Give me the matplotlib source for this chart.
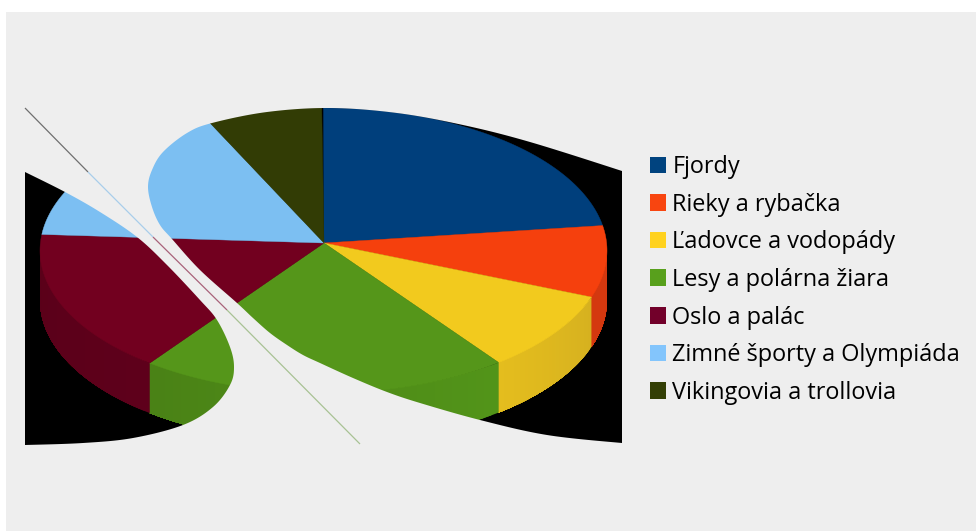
import numpy as np
import matplotlib
matplotlib.use("Agg")
import matplotlib.pyplot as plt
from matplotlib.patches import Polygon, Rectangle, Patch, PathPatch
from matplotlib.path import Path

categories = ["Fjordy", "Rieky a rybačka", "Ľadovce a vodopády", "Lesy a polárna žiara",
              "Oslo a palác", "Zimné športy a Olympiáda", "Vikingovia a trollovia"]
values = [22.2, 8.1, 9.1, 21.1, 16.3, 16.5, 6.6]

legend_colors = ["#00437f", "#f84510", "#ffd21f", "#58a01c", "#72002a", "#83c5fc", "#333f05"]
top_colors = ["#003f7c", "#f5400d", "#f2ca1e", "#55961a", "#72001f", "#7cbff2", "#323c05"]
# wall shade at each end of a slice
wall_from = ["#00305e", "#d4380f", "#d6b11f", "#529419", "#5e001b", "#6aa5d2", "#2a3304"]
wall_to = ["#00305e", "#d4380f", "#e4bd1e", "#4a8216", "#5a0019", "#6aa5d2", "#2a3304"]

panel = "#eeeeee"

# pie geometry in pixels
cx, cy, rx, ry = 323.5, 250.5, 283.5, 142.5
apex = (324, 243)
depth = 50


def rim(a):
    # a in degrees clockwise from the top
    t = np.radians(a)
    return cx + rx * np.sin(t), cy - ry * np.cos(t)


def smooth(pts, n=16):
    # catmull-rom through the outline points
    p = np.array(pts, dtype=float)
    p = np.vstack([p[0], p, p[-1]])
    out = []
    for i in range(1, len(p) - 2):
        for u in np.linspace(0, 1, n, endpoint=False):
            out.append(0.5 * (2 * p[i] + (p[i + 1] - p[i - 1]) * u
                              + (2 * p[i - 1] - 5 * p[i] + 4 * p[i + 1] - p[i + 2]) * u ** 2
                              + (3 * p[i] - p[i - 1] - 3 * p[i + 1] + p[i + 2]) * u ** 3))
    out.append(p[-2])
    return np.array(out)


fig = plt.figure(figsize=(9.76, 5.31), dpi=100, facecolor="white")
ax = fig.add_axes([0, 0, 1, 1])
ax.set_xlim(0, 976)
ax.set_ylim(531, 0)
ax.axis("off")

ax.add_patch(Rectangle((6, 12), 970, 519, fc=panel, ec="none", zorder=0))
ax.add_patch(Rectangle((25, 108), 597, 337, fc="black", ec="none", zorder=1))

# side wall, only the front half shows
edges = np.cumsum([0] + values) * 3.6
for i in range(len(values)):
    a0, a1 = max(edges[i], 90), min(edges[i + 1], 270)
    if a1 <= a0:
        continue
    ang = np.linspace(a0, a1, 41)
    c0 = np.array(matplotlib.colors.to_rgb(wall_from[i]))
    c1 = np.array(matplotlib.colors.to_rgb(wall_to[i]))
    # painted over each other so no black seams show between the strips
    for j in range(40):
        xs, ys = rim(ang[j:])
        pts = np.column_stack([np.r_[xs, xs[::-1]], np.r_[ys, ys[::-1] + depth]])
        ax.add_patch(Polygon(pts, fc=c0 + (c1 - c0) * j / 39, ec="none", zorder=2))

# top surface
for i in range(len(values)):
    ang = np.linspace(edges[i], edges[i + 1], 80)
    xs, ys = rim(ang)
    pts = np.vstack([apex, np.column_stack([xs, ys])])
    ax.add_patch(Polygon(pts, fc=top_colors[i], ec=top_colors[i], lw=0.3, zorder=3))

# the chart is cut into two lobes, everything else is panel colour
right_lobe = smooth([(632, 175), (622, 171), (530, 142), (463, 125), (397, 113), (330, 108), (267, 112),
                     (212, 123), (187, 133), (163, 152), (152, 170), (148, 187), (152, 207), (160, 225),
                     (172, 239), (200, 270), (237, 303), (253, 318), (270, 333), (287, 345), (303, 355),
                     (320, 363), (353, 378), (387, 392), (420, 403), (480, 420), (547, 435),
                     (622, 443), (632, 443)])
left_lobe = smooth([(15, 167), (25, 172), (65, 192), (100, 212), (137, 237), (167, 265), (200, 300),
                    (217, 320), (230, 347), (234, 367), (230, 385), (213, 407), (183, 425), (133, 438),
                    (83, 443), (25, 445), (15, 445)])


def area(p):
    return 0.5 * np.sum(p[:, 0] * np.roll(p[:, 1], -1) - np.roll(p[:, 0], -1) * p[:, 1])


outer = np.array([(15, 98), (640, 98), (640, 455), (15, 455)], dtype=float)
verts, codes = [], []
for k, pts in enumerate([outer, right_lobe, left_lobe]):
    # holes wind the other way round to the outer box
    if k > 0 and np.sign(area(pts)) == np.sign(area(outer)):
        pts = pts[::-1]
    verts.append(np.vstack([pts, pts[:1]]))
    codes += [Path.MOVETO] + [Path.LINETO] * (len(pts) - 1) + [Path.CLOSEPOLY]
ax.add_patch(PathPatch(Path(np.vstack(verts), codes), fc=panel, ec="none", zorder=4))

# hairline slit where the chart shows through
slit = [((25, 108), (88, 172), "#6f6f6f"), ((88, 172), (153, 237), "#a9cdea"),
        ((153, 237), (227, 310), "#a8627a"), ((227, 310), (360, 444), "#a8c294")]
for p0, p1, col in slit:
    ax.plot([p0[0], p1[0]], [p0[1], p1[1]], color=col, lw=0.9, zorder=5, solid_capstyle="butt")

handles = [Patch(fc=c, ec="none") for c in legend_colors]
plt.rcParams["font.family"] = ["Open Sans", "DejaVu Sans"]
leg = ax.legend(handles, categories, loc="upper left", bbox_to_anchor=(0.666, 0.708),
                bbox_transform=ax.transAxes, frameon=False, fontsize=16.9, labelspacing=0.58,
                handlelength=0.7, handleheight=0.7, handletextpad=0.25, borderpad=0, borderaxespad=0)
for t in leg.get_texts():
    t.set_color("black")

fig.savefig("out.png", dpi=100)
